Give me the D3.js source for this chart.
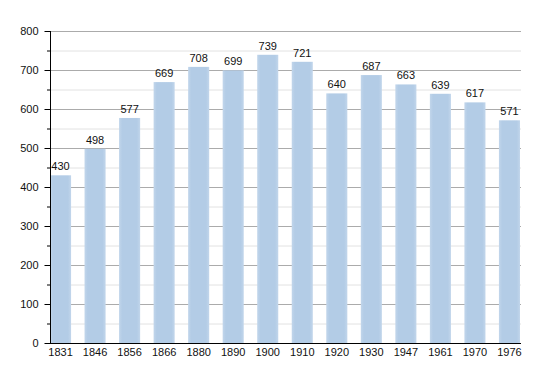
<!DOCTYPE html>
<html>
<head>
<meta charset="utf-8">
<script src="https://cdn.jsdelivr.net/npm/d3@7"></script>
<style>
  body { margin: 0; background: #fff; }
  text { font-family: "Liberation Sans", Arial, sans-serif; font-size: 11px; fill: #111; }
</style>
</head>
<body>
<div id="root"></div>
<script>
'use strict';

var years = ['1831', '1846', '1856', '1866', '1880', '1890', '1900', '1910', '1920', '1930', '1947', '1961', '1970', '1976'];
var population = [430, 498, 577, 669, 708, 699, 739, 721, 640, 687, 663, 639, 617, 571];
var majorTicks = [0, 100, 200, 300, 400, 500, 600, 700, 800];
var minorTicks = [50, 150, 250, 350, 450, 550, 650, 750];

var width = 550;
var height = 373;
var plotLeft = 50, plotRight = 521, plotTop = 31, plotBottom = 343;

var svg = d3.select('#root')
  .append('svg')
  .attr('width', width)
  .attr('height', height);

var defs = svg.append('defs');
var grad = defs.append('linearGradient')
  .attr('id', 'barfill')
  .attr('x1', '0').attr('x2', '1').attr('y1', '0').attr('y2', '0');
grad.append('stop').attr('offset', '0%').attr('stop-color', '#c2d6eb');
grad.append('stop').attr('offset', '15%').attr('stop-color', '#b3cce6');
grad.append('stop').attr('offset', '85%').attr('stop-color', '#b3cce6');
grad.append('stop').attr('offset', '100%').attr('stop-color', '#c2d6eb');

var x = d3.scaleBand()
  .domain(years)
  .range([plotLeft, plotRight - 1])
  .paddingInner(0.39)
  .paddingOuter(0);

var y = d3.scaleLinear()
  .domain([0, 800])
  .range([plotBottom, plotTop]);

// grid
svg.append('g')
  .selectAll('line')
  .data(minorTicks)
  .enter()
  .append('line')
  .attr('x1', plotLeft).attr('x2', plotRight)
  .attr('y1', d => y(d) + 0.5).attr('y2', d => y(d) + 0.5)
  .attr('stroke', '#e2e2e2');

svg.append('g')
  .selectAll('line')
  .data(majorTicks.slice(1))
  .enter()
  .append('line')
  .attr('x1', plotLeft).attr('x2', plotRight)
  .attr('y1', d => y(d) + 0.5).attr('y2', d => y(d) + 0.5)
  .attr('stroke', '#ababab');

// bars
svg.append('g')
  .selectAll('rect')
  .data(population)
  .enter()
  .append('rect')
  .attr('x', (d, i) => x(years[i]))
  .attr('y', d => y(d))
  .attr('width', x.bandwidth())
  .attr('height', d => plotBottom - y(d))
  .attr('fill', 'url(#barfill)');

// value labels
svg.append('g')
  .selectAll('text')
  .data(population)
  .enter()
  .append('text')
  .attr('x', (d, i) => x(years[i]) + x.bandwidth() / 2)
  .attr('y', d => y(d) - 5)
  .attr('text-anchor', 'middle')
  .text(d => d);

// y axis
var yAxis = svg.append('g')
  .attr('transform', 'translate(' + (plotLeft + 0.5) + ',0)')
  .call(d3.axisLeft(y).tickValues(majorTicks).tickSize(6).tickPadding(6));
yAxis.select('.domain').attr('stroke', '#000').attr('d', 'M0,' + plotTop + 'V' + plotBottom);
yAxis.selectAll('.tick line').attr('stroke', '#000');

svg.append('g')
  .selectAll('line')
  .data(minorTicks)
  .enter()
  .append('line')
  .attr('x1', plotLeft - 3).attr('x2', plotLeft)
  .attr('y1', d => y(d) + 0.5).attr('y2', d => y(d) + 0.5)
  .attr('stroke', '#000');

// x axis
var xAxis = svg.append('g')
  .attr('transform', 'translate(0,' + (plotBottom + 0.5) + ')')
  .call(d3.axisBottom(x).tickSize(0).tickPadding(5));
xAxis.select('.domain').attr('stroke', '#000').attr('d', 'M' + plotLeft + ',0H' + plotRight);
</script>
</body>
</html>
